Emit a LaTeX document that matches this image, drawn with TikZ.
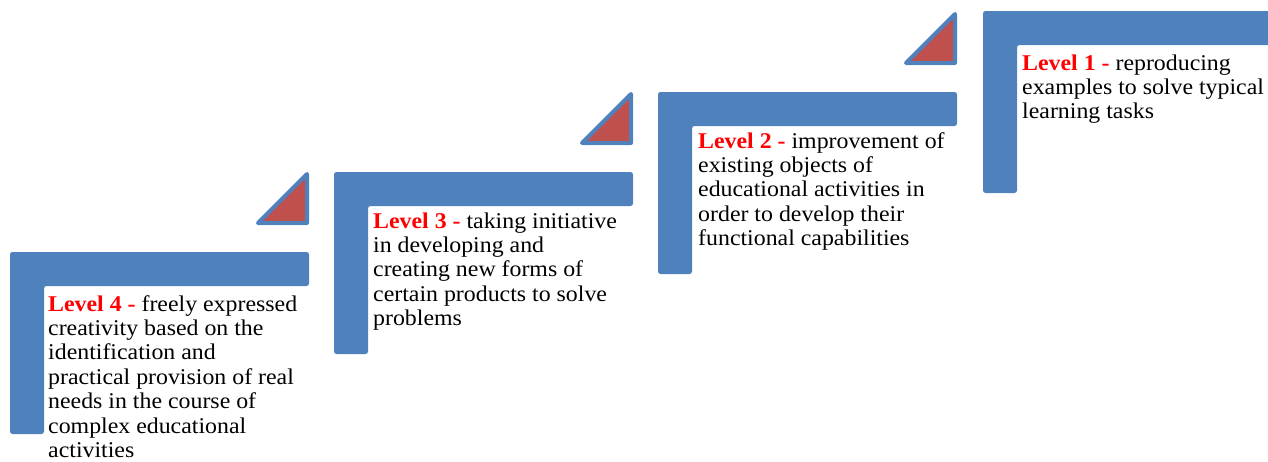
\documentclass[tikz,border=0pt]{standalone}
\usepackage{fontspec}
\setmainfont{Liberation Serif}[FakeStretch=1.06]
\definecolor{stepblue}{HTML}{4F81BD}
\definecolor{trired}{HTML}{C0504D}
\definecolor{lvlred}{HTML}{FF0000}
\begin{document}
\begin{tikzpicture}[x=1pt,y=-1pt,
  stair/.style={fill=stepblue, rounded corners=2.5pt},
  tri/.style={fill=trired, draw=stepblue, line width=4pt, line join=round},
  desc/.style={anchor=base west, align=left, inner sep=0pt, font=\fontsize{22.5}{24.4}\selectfont}]
\useasboundingbox (0,0) rectangle (1268,461);
\clip (0,0) rectangle (1268,461);
\foreach \x/\y in {10/252, 334/172, 658/92, 983/11}{
  \fill[stair] (\x,\y) -- ++(299,0) -- ++(0,34) -- ++(-265,0) -- ++(0,148) -- ++(-34,0) -- cycle;
  \filldraw[tri] (\x+297,\y-78) -- (\x+297,\y-29) -- (\x+248,\y-29) -- cycle;
}
% anchor = baseline of the last line
\node[desc] (text4) at (48,457.4) {{\color{lvlred}\bfseries Level 4 -} freely expressed\\creativity based on the\\identification and\\practical provision of real\\needs in the course of\\complex educational\\activities};
\node[desc] (text3) at (373,325.6) {{\color{lvlred}\bfseries Level 3 -} taking initiative\\in developing and\\creating new forms of\\certain products to solve\\problems};
\node[desc] (text2) at (698,245.6) {{\color{lvlred}\bfseries Level 2 -} improvement of\\existing objects of\\educational activities in\\order to develop their\\functional capabilities};
\node[desc] (text1) at (1022,118.8) {{\color{lvlred}\bfseries Level 1 -} reproducing\\examples to solve typical\\learning tasks};
\end{tikzpicture}
\end{document}
